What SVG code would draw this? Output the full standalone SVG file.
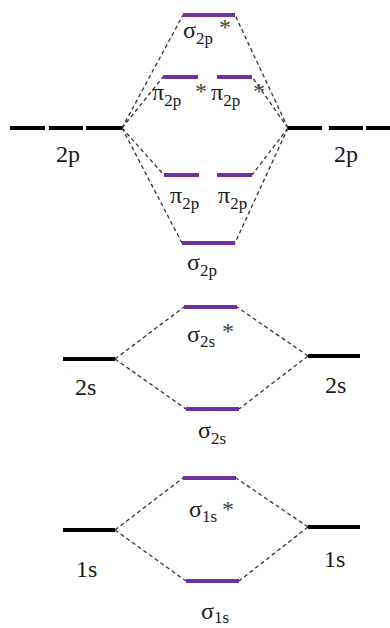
<svg xmlns="http://www.w3.org/2000/svg" width="390" height="628" viewBox="0 0 390 628" font-family="'Times New Roman', Times, Tinos, 'Liberation Serif', 'Nimbus Roman', FreeSerif, 'DejaVu Serif', serif">
<style>
.mo{stroke:#7030a0;stroke-width:4;fill:none}
.ao{stroke:#000;stroke-width:4;fill:none}
.cn{stroke:#333;stroke-width:1.3;stroke-dasharray:4 3;fill:none}
text{font-family:'Times New Roman',Times,Tinos,'Liberation Serif','Nimbus Roman',FreeSerif,'DejaVu Serif',serif;font-size:24px;fill:#1a1a1a}
.sub{font-size:17px}
.st{font-size:24px;fill:#444}
</style>
<rect width="390" height="628" fill="#fff"/>
<g id="connectors">
<line class="cn" x1="122" y1="128" x2="183" y2="15"/>
<line class="cn" x1="122" y1="128" x2="163" y2="77"/>
<line class="cn" x1="122" y1="128" x2="164" y2="175"/>
<line class="cn" x1="122" y1="128" x2="182" y2="243"/>
<line class="cn" x1="288" y1="128" x2="235" y2="15"/>
<line class="cn" x1="288" y1="128" x2="252" y2="77"/>
<line class="cn" x1="288" y1="128" x2="252" y2="175"/>
<line class="cn" x1="288" y1="128" x2="235" y2="243"/>
<line class="cn" x1="115" y1="359" x2="184" y2="307"/>
<line class="cn" x1="115" y1="359" x2="186" y2="409"/>
<line class="cn" x1="308" y1="356" x2="237" y2="307"/>
<line class="cn" x1="308" y1="356" x2="239" y2="409"/>
<line class="cn" x1="115" y1="530" x2="183" y2="478"/>
<line class="cn" x1="115" y1="530" x2="186" y2="581"/>
<line class="cn" x1="308" y1="527" x2="236" y2="478"/>
<line class="cn" x1="308" y1="527" x2="239" y2="581"/>
</g>
<g id="ao-2p-left">
<line class="ao" x1="10" y1="128" x2="45" y2="128"/>
<line class="ao" x1="49" y1="128" x2="83" y2="128"/>
<line class="ao" x1="86" y1="128" x2="122" y2="128"/>
<text x="56" y="162">2p</text>
</g>
<g id="ao-2p-right">
<line class="ao" x1="288" y1="128" x2="322" y2="128"/>
<line class="ao" x1="329" y1="128" x2="363" y2="128"/>
<line class="ao" x1="366" y1="128" x2="390" y2="128"/>
<text x="334" y="162">2p</text>
</g>
<g id="mo-sigma2p-star">
<line class="mo" x1="183" y1="15" x2="235" y2="15"/>
<text x="183" y="38">σ<tspan class="sub" dy="6">2p</tspan><tspan class="st" x="219" y="35">*</tspan></text>
</g>
<g id="mo-pi2p-star-left">
<line class="mo" x1="163" y1="77" x2="198" y2="77"/>
<text x="152" y="100">π<tspan class="sub" dy="6">2p</tspan><tspan class="st" x="195" y="99">*</tspan></text>
</g>
<g id="mo-pi2p-star-right">
<line class="mo" x1="217" y1="77" x2="252" y2="77"/>
<text x="211" y="100">π<tspan class="sub" dy="6">2p</tspan><tspan class="st" x="253" y="99">*</tspan></text>
</g>
<g id="mo-pi2p-left">
<line class="mo" x1="164" y1="175" x2="199" y2="175"/>
<text x="170" y="203">π<tspan class="sub" dy="6">2p</tspan></text>
</g>
<g id="mo-pi2p-right">
<line class="mo" x1="217" y1="175" x2="252" y2="175"/>
<text x="218" y="203">π<tspan class="sub" dy="6">2p</tspan></text>
</g>
<g id="mo-sigma2p">
<line class="mo" x1="182" y1="243" x2="235" y2="243"/>
<text x="187" y="270">σ<tspan class="sub" dy="6">2p</tspan></text>
</g>
<g id="ao-2s-left">
<line class="ao" x1="63" y1="359" x2="115" y2="359"/>
<text x="75" y="395">2s</text>
</g>
<g id="ao-2s-right">
<line class="ao" x1="308" y1="356" x2="360" y2="356"/>
<text x="325" y="393">2s</text>
</g>
<g id="mo-sigma2s-star">
<line class="mo" x1="184" y1="307" x2="237" y2="307"/>
<text x="187" y="342">σ<tspan class="sub" dy="5">2s</tspan><tspan class="st" x="222" y="339">*</tspan></text>
</g>
<g id="mo-sigma2s">
<line class="mo" x1="186" y1="409" x2="239" y2="409"/>
<text x="198" y="438">σ<tspan class="sub" dy="6">2s</tspan></text>
</g>
<g id="ao-1s-left">
<line class="ao" x1="63" y1="530" x2="115" y2="530"/>
<text x="76" y="577">1s</text>
</g>
<g id="ao-1s-right">
<line class="ao" x1="308" y1="527" x2="360" y2="527"/>
<text x="324" y="567">1s</text>
</g>
<g id="mo-sigma1s-star">
<line class="mo" x1="183" y1="478" x2="236" y2="478"/>
<text x="189" y="517">σ<tspan class="sub" dy="5">1s</tspan><tspan class="st" x="222" y="517">*</tspan></text>
</g>
<g id="mo-sigma1s">
<line class="mo" x1="186" y1="581" x2="239" y2="581"/>
<text x="201" y="619">σ<tspan class="sub" dy="4">1s</tspan></text>
</g>
</svg>
